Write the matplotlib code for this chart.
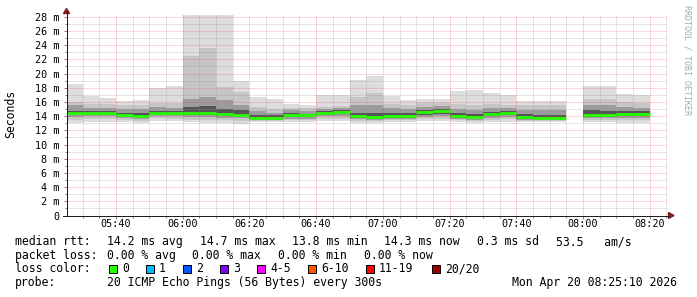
import numpy as np
import matplotlib
matplotlib.use("Agg")
import matplotlib.pyplot as plt
from matplotlib.patches import Rectangle, Polygon
from matplotlib.lines import Line2D
from matplotlib.ticker import MultipleLocator, FuncFormatter

W, H = 697, 297
nan = np.nan
MONO = "DejaVu Sans Mono"

# ── 5-minute rows (start time of each step) ─────────────────────────────────
times = ["05:25", "05:30", "05:35", "05:40", "05:45", "05:50", "05:55", "06:00",
         "06:05", "06:10", "06:15", "06:20", "06:25", "06:30", "06:35", "06:40",
         "06:45", "06:50", "06:55", "07:00", "07:05", "07:10", "07:15", "07:20",
         "07:25", "07:30", "07:35", "07:40", "07:45", "07:50", "07:55", "08:00",
         "08:05", "08:10", "08:15", "08:20"]

# ping rtt distribution per step, ms (smoke)
rtt_max = [18.5, 16.8, 16.6, 16.1, 16.2, 18.0, 18.2, 29.5, 29.5, 29.5, 18.9, 16.76,
           16.34, 15.73, 15.63, 16.95, 17.04, 19.15, 19.6, 16.9, 16.3, 16.43, 16.43, 17.5,
           17.7, 17.2, 17.04, 16.1, 16.1, 16.1, nan, 18.3, 18.3, 17.13, 17.04, nan]
rtt_p90 = [15.95, 15.7, 15.7, 15.6, 15.6, 15.9, 15.8, 22.4, 23.6, 18.1, 17.4, 15.35,
           15.0, 15.2, 15.1, 15.3, 15.4, 16.7, 17.2, 15.7, 15.6, 15.8, 15.8, 15.7,
           15.6, 15.7, 15.6, 15.5, 15.6, 15.5, nan, 16.4, 16.4, 16.0, 15.9, nan]
rtt_p75 = [15.5, 15.2, 15.2, 15.0, 15.0, 15.3, 15.2, 16.4, 16.7, 16.2, 15.6, 14.7,
           14.5, 14.8, 14.7, 15.0, 15.1, 15.5, 15.6, 15.1, 15.0, 15.3, 15.4, 15.0,
           14.9, 15.2, 15.1, 14.9, 14.9, 14.8, nan, 15.6, 15.5, 15.3, 15.2, nan]
rtt_p60 = [14.75, 14.7, 14.7, 14.5, 14.4, 14.75, 14.7, 15.3, 15.4, 15.0, 14.8, 14.2,
           14.1, 14.4, 14.35, 14.7, 14.8, 14.5, 14.5, 14.4, 14.4, 14.9, 15.0, 14.4,
           14.3, 14.6, 14.7, 14.3, 14.2, 14.2, nan, 14.8, 14.7, 14.7, 14.7, nan]
rtt_med = [14.45, 14.45, 14.45, 14.13, 14.0, 14.45, 14.45, 14.46, 14.46, 14.3, 14.18, 13.8,
           13.8, 14.1, 14.1, 14.46, 14.6, 14.0, 13.9, 14.0, 14.0, 14.55, 14.7, 14.0,
           13.9, 14.27, 14.37, 13.85, 13.8, 13.8, nan, 14.13, 14.13, 14.3, 14.3, nan]
rtt_p40 = [14.25, 14.25, 14.25, 13.95, 13.85, 14.25, 14.25, 14.2, 14.2, 14.05, 13.95, 13.6,
           13.6, 13.85, 13.85, 14.2, 14.3, 13.8, 13.7, 13.8, 13.8, 14.2, 14.3, 13.8,
           13.7, 14.05, 14.1, 13.65, 13.6, 13.6, nan, 13.9, 13.9, 14.0, 14.0, nan]
rtt_p25 = [13.9, 13.95, 13.95, 13.7, 13.6, 14.0, 13.95, 13.9, 13.9, 13.75, 13.7, 13.45,
           13.45, 13.65, 13.65, 13.95, 14.0, 13.6, 13.5, 13.6, 13.6, 13.9, 14.0, 13.6,
           13.5, 13.8, 13.85, 13.5, 13.45, 13.45, nan, 13.7, 13.7, 13.75, 13.75, nan]
rtt_p10 = [13.5, 13.55, 13.6, 13.4, 13.35, 13.7, 13.6, 13.5, 13.5, 13.4, 13.35, 13.3,
           13.3, 13.45, 13.45, 13.6, 13.65, 13.35, 13.3, 13.4, 13.4, 13.6, 13.65, 13.4,
           13.3, 13.5, 13.55, 13.3, 13.3, 13.3, nan, 13.45, 13.45, 13.4, 13.4, nan]
rtt_min = [13.0, 13.1, 13.2, 13.1, 13.0, 13.3, 13.25, 13.1, 13.0, 13.0, 12.95, 13.15,
           13.15, 13.2, 13.2, 13.25, 13.3, 13.05, 13.0, 13.1, 13.15, 13.25, 13.3, 13.1,
           13.05, 13.15, 13.2, 13.1, 13.1, 13.1, nan, 13.15, 13.15, 13.0, 13.0, nan]

# ── legend ──────────────────────────────────────────────────────────────────
loss_labels = ["0", "1", "2", "3", "4-5", "6-10", "11-19", "20/20"]
loss_colors = ["#26ff00", "#00b8ff", "#0059ff", "#7e00ff", "#ff00ff",
               "#ff5500", "#ff0000", "#a10000"]
rtt_stats = ["14.2 ms avg", "14.7 ms max", "13.8 ms min", "14.3 ms now",
             "0.3 ms sd", "53.5   am/s"]
loss_stats = ["0.00 % avg", "0.00 % max", "0.00 % min", "0.00 % now"]
probe_text = "20 ICMP Echo Pings (56 Bytes) every 300s"
stamp_text = "Mon Apr 20 08:25:10 2026"


def px(x, y):
    """pixel position (from top-left) -> figure fraction"""
    return x / W, 1 - y / H


t0 = np.array([int(t[:2]) * 60 + int(t[3:]) for t in times], dtype=float)

fig = plt.figure(figsize=(W / 100, H / 100), dpi=100)
fig.patch.set_facecolor("white")
ax = fig.add_axes([66.5 / W, 81.5 / H, 600.5 / W, 200.5 / H])

# smoke bands, outer (light) to inner (dark)
bands = [(rtt_min, rtt_max, "#dddddd"), (rtt_p10, rtt_p90, "#c6c6c6"),
         (rtt_p25, rtt_p75, "#9c9c9c"), (rtt_p40, rtt_p60, "#555555")]
for lo, hi, col in bands:
    lo, hi = np.array(lo), np.array(hi)
    ax.bar(t0, hi - lo, bottom=lo, width=5, align="edge", color=col,
           linewidth=0, antialiased=False, zorder=1)

ax.hlines(rtt_med, t0, t0 + 5, colors="#26ff00", linewidth=2.0,
          capstyle="butt", zorder=4)

ax.set_xlim(325 + 10 / 60, 505 + 10 / 60)
ax.set_ylim(0, 28.24)

ax.xaxis.set_major_locator(MultipleLocator(20))
ax.xaxis.set_minor_locator(MultipleLocator(5))
ax.yaxis.set_major_locator(MultipleLocator(2))
ax.yaxis.set_minor_locator(MultipleLocator(1))
ax.xaxis.set_major_formatter(FuncFormatter(lambda v, p: f"{int(v) // 60:02d}:{int(v) % 60:02d}"))
ax.yaxis.set_major_formatter(FuncFormatter(lambda v, p: "0" if v == 0 else f"{v:.0f} m"))

dots = (0, (1, 1))
ax.grid(which="minor", color="#8f8f8f", alpha=0.45, linestyle=dots, linewidth=0.72, zorder=3)
ax.grid(which="major", color="#de4f4f", alpha=0.45, linestyle=dots, linewidth=0.72, zorder=3)
ax.set_axisbelow(False)

ax.tick_params(which="both", direction="out", width=0.72, color="#808080")
ax.tick_params(which="major", length=2.2)
ax.tick_params(which="minor", length=1.5)
ax.tick_params(axis="x", labelsize=7.3, pad=0.5)
ax.tick_params(axis="y", labelsize=7.3, pad=2.6)
for lab in ax.get_xticklabels() + ax.get_yticklabels():
    lab.set_family(MONO)
for s in ax.spines.values():
    s.set_visible(False)

# axes with arrows
axis_col = "#1f1f1f"
arrow_col = "#7f1f1f"
fig.add_artist(Line2D([66.5 / W] * 2, [1 - 215.5 / H, 1 - 12 / H], color=axis_col,
                      linewidth=0.72, transform=fig.transFigure))
fig.add_artist(Line2D([63 / W, 669 / W], [1 - 215.5 / H] * 2, color=axis_col,
                      linewidth=0.72, transform=fig.transFigure))
fig.add_artist(Polygon([px(63.5, 13.5), px(69.5, 13.5), px(66.5, 8.5)], closed=True,
                       color=arrow_col, transform=fig.transFigure))
fig.add_artist(Polygon([px(668.5, 212.5), px(668.5, 218.5), px(674, 215.5)], closed=True,
                       color=arrow_col, transform=fig.transFigure))

# y axis title and watermark
fig.text(*px(11, 114), "Seconds", rotation=90, ha="center", va="center",
         family=MONO, fontsize=8.3)
fig.text(*px(687.5, 5), "RRDTOOL / TOBI OETIKER", rotation=-90, ha="center", va="top",
         family=MONO, fontsize=6, color="#a8a8a8")

# legend rows
fs = 8.3
row_y = [241.7, 255.2, 268.9, 282.7]
fig.text(*px(15, row_y[0]), "median rtt:", family=MONO, fontsize=fs, va="center")
for txt, x in zip(rtt_stats, [107, 199.5, 292, 384.5, 477, 556]):
    fig.text(*px(x, row_y[0]), txt, family=MONO, fontsize=fs, va="center")

fig.text(*px(15, row_y[1]), "packet loss:", family=MONO, fontsize=fs, va="center")
for txt, x in zip(loss_stats, [107, 192.5, 278, 363.5]):
    fig.text(*px(x, row_y[1]), txt, family=MONO, fontsize=fs, va="center")

fig.text(*px(15, row_y[2]), "loss color:", family=MONO, fontsize=fs, va="center")
lab_x = [122, 159, 196, 233, 270, 321, 379, 445]
for lab, col, lx in zip(loss_labels, loss_colors, lab_x):
    fig.add_artist(Rectangle(px(lx - 13.5, row_y[2] + 4), 8 / W, 8 / H, facecolor=col,
                             edgecolor="black", linewidth=0.72, transform=fig.transFigure))
    fig.text(*px(lx, row_y[2]), lab, family=MONO, fontsize=fs, va="center")

fig.text(*px(15, row_y[3]), "probe:", family=MONO, fontsize=fs, va="center")
fig.text(*px(107, row_y[3]), probe_text, family=MONO, fontsize=fs, va="center")
fig.text(*px(512.5, row_y[3]), stamp_text, family=MONO, fontsize=fs, va="center")

fig.savefig("out.png", dpi=100, facecolor="white")
